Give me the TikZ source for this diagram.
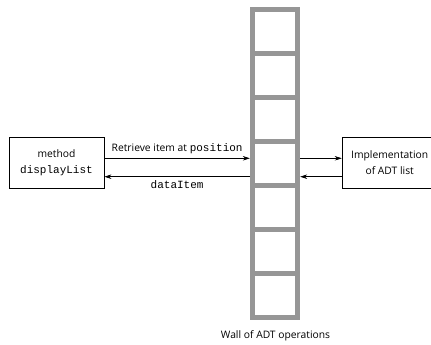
\documentclass[tikz,border=0pt]{standalone}
\usepackage{fontspec}
\setmainfont{Open Sans}
\setmonofont{Liberation Mono}
\usetikzlibrary{arrows.meta}
\definecolor{wallgray}{RGB}{150,150,150}
\tikzset{
  box/.style={draw=black, line width=0.9pt, fill=white, minimum width=95pt, minimum height=51pt, inner sep=0pt, align=center, font=\fontsize{10.3pt}{15.5pt}\selectfont},
  conn/.style={draw=black, line width=0.6pt, -{Stealth[length=7pt,width=4.5pt]}},
  lbl/.style={font=\fontsize{10.3pt}{12pt}\selectfont, inner sep=0pt},
  cell/.style={fill=white, draw=none, minimum width=39.4pt, minimum height=38.66pt, inner sep=0pt}
}
\begin{document}
\begin{tikzpicture}[x=1pt,y=-1pt]
\useasboundingbox (0,0) rectangle (431,345);
% wall
\node[fill=wallgray, draw=none, minimum width=50pt, minimum height=313pt, inner sep=0pt] (wall) at (275,163.5) {};
\foreach \i in {0,...,6} {
  \node[cell] (c\i) at (275, {12.3+19.33+\i*43.96}) {};
}
\node[lbl, anchor=base] (walllbl) at (275.5,338.5) {Wall of ADT operations};
% left box
\node[box] (left) at (56.5,162.8) {method\\{\ttfamily\fontsize{11pt}{11pt}\selectfont displayList}};
% right box
\begin{scope}
\clip (0,0) rectangle (431,345);
\node[box] (right) at (389.7,162.8) {Implementation\\of ADT list};
\end{scope}
% coordinates on the wall
\coordinate (wl1) at (wall.west |- 0,158.3);
\coordinate (wl2) at (wall.west |- 0,176.7);
\coordinate (wr1) at (wall.east |- 0,158.3);
\coordinate (wr2) at (wall.east |- 0,176.7);
\draw[conn] (left.east |- wl1) -- node[lbl, above=4pt] {Retrieve item at {\ttfamily\fontsize{11pt}{11pt}\selectfont position}} (wl1);
\draw[conn] (wl2) -- node[lbl, below=4pt] {\ttfamily\fontsize{11pt}{11pt}\selectfont dataItem} (left.east |- wl2);
\draw[conn] (wr1) -- (right.west |- wr1);
\draw[conn] (right.west |- wr2) -- (wr2);
\end{tikzpicture}
\end{document}
